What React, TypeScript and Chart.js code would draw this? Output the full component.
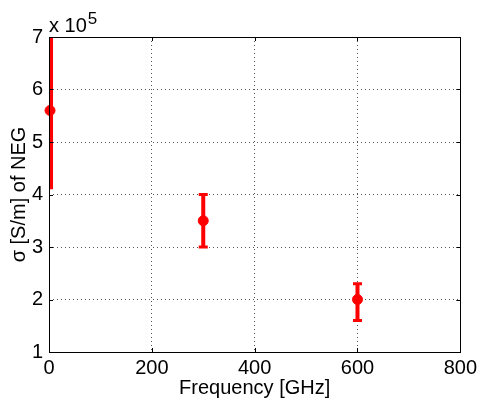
import React, { useEffect, useRef } from "react";
import { Chart, registerables } from "chart.js";

Chart.register(...registerables);

// Low-frequency (DC) measurement of NEG conductivity
const dcFreq = [2];
const dcSigma = [5.6e5];
const dcLow = [4.1e5];
const dcHigh = [7.0e5];

// THz measurements
const thzFreq = [300, 600];
const thzSigma = [3.5e5, 2.0e5];
const thzLow = [3.0e5, 1.6e5];
const thzHigh = [4.0e5, 2.3e5];

const xTicks = [0, 200, 400, 600, 800];
const yTicks = [1e5, 2e5, 3e5, 4e5, 5e5, 6e5, 7e5];
const yScaleExp = 5;

const xTitle = "Frequency [GHz]";
const yTitle = "σ [S/m] of NEG";

const FONT = "'Liberation Sans', Arial, Helvetica, sans-serif";
const RED = "#ff0000";

const framePlugin = {
  id: "matlabFrame",
  beforeDatasetsDraw(chart: any) {
    const ctx = chart.ctx;
    const ca = chart.chartArea;
    const ys = chart.scales.y;
    const xs = chart.scales.x;
    ctx.save();
    ctx.beginPath();
    ctx.rect(ca.left, ca.top, ca.right - ca.left, ca.bottom - ca.top);
    ctx.clip();
    chart.data.datasets.forEach((ds: any) => {
      const eb = ds.errorBars;
      if (!eb) return;
      ctx.strokeStyle = RED;
      ctx.lineWidth = eb.lineWidth;
      ctx.lineCap = "butt";
      ds.data.forEach((p: any, i: number) => {
        const px = xs.getPixelForValue(p.x);
        const yl = ys.getPixelForValue(eb.low[i]);
        const yh = ys.getPixelForValue(eb.high[i]);
        ctx.beginPath();
        ctx.moveTo(px, yl);
        ctx.lineTo(px, yh);
        ctx.stroke();
        if (eb.cap > 0) {
          ctx.lineWidth = 3;
          ctx.beginPath();
          ctx.moveTo(px - eb.cap / 2, yl);
          ctx.lineTo(px + eb.cap / 2, yl);
          ctx.moveTo(px - eb.cap / 2, yh);
          ctx.lineTo(px + eb.cap / 2, yh);
          ctx.stroke();
          ctx.lineWidth = eb.lineWidth;
        }
      });
    });
    ctx.restore();
  },
  afterDraw(chart: any) {
    const ctx = chart.ctx;
    const ca = chart.chartArea;
    const xs = chart.scales.x;
    const ys = chart.scales.y;
    ctx.save();
    ctx.strokeStyle = "#000";
    ctx.lineWidth = 1;
    ctx.strokeRect(Math.round(ca.left) + 0.5, Math.round(ca.top) + 0.5, Math.round(ca.right - ca.left), Math.round(ca.bottom - ca.top));
    const tl = 4;
    ctx.beginPath();
    xTicks.forEach((v) => {
      const px = Math.round(xs.getPixelForValue(v)) + 0.5;
      ctx.moveTo(px, ca.bottom);
      ctx.lineTo(px, ca.bottom - tl);
      ctx.moveTo(px, ca.top);
      ctx.lineTo(px, ca.top + tl);
    });
    yTicks.forEach((v) => {
      const py = Math.round(ys.getPixelForValue(v)) + 0.5;
      ctx.moveTo(ca.left, py);
      ctx.lineTo(ca.left + tl, py);
      ctx.moveTo(ca.right, py);
      ctx.lineTo(ca.right - tl, py);
    });
    ctx.stroke();
    // exponent label
    ctx.fillStyle = "#000";
    ctx.textAlign = "left";
    ctx.textBaseline = "alphabetic";
    ctx.font = `20px ${FONT}`;
    ctx.fillText("x 10", ca.left, 32);
    const w = ctx.measureText("x 10").width;
    ctx.font = `17px ${FONT}`;
    ctx.fillText(String(yScaleExp), ca.left + w + 1, 24);
    ctx.restore();
  },
};

export default function App() {
  const ref = useRef<HTMLCanvasElement | null>(null);
  useEffect(() => {
    if (!ref.current) return;
    const chart = new Chart(ref.current, {
      type: "scatter",
      data: {
        datasets: [
          {
            label: "DC",
            data: dcFreq.map((x, i) => ({ x, y: dcSigma[i] })),
            backgroundColor: RED,
            borderColor: RED,
            pointRadius: 5,
            pointHoverRadius: 5,
            clip: false,
            errorBars: { low: dcLow, high: dcHigh, lineWidth: 6, cap: 0 },
          } as any,
          {
            label: "THz",
            data: thzFreq.map((x, i) => ({ x, y: thzSigma[i] })),
            backgroundColor: RED,
            borderColor: RED,
            pointRadius: 5,
            pointHoverRadius: 5,
            clip: false,
            errorBars: { low: thzLow, high: thzHigh, lineWidth: 4, cap: 9 },
          } as any,
        ],
      },
      options: {
        responsive: false,
        animation: false,
        layout: { padding: { top: 37, right: 20, left: 0, bottom: 0 } },
        plugins: { legend: { display: false }, tooltip: { enabled: false } },
        scales: {
          x: {
            type: "linear",
            min: 0,
            max: 800,
            afterBuildTicks: (s: any) => {
              s.ticks = xTicks.map((v) => ({ value: v }));
            },
            afterFit: (s: any) => {
              s.height = 48;
            },
            ticks: {
              color: "#000",
              font: { family: FONT, size: 20 },
              padding: 4,
              maxRotation: 0,
            },
            grid: { color: "#555", drawTicks: false, lineWidth: 1 },
            border: { display: false, dash: [1, 3] },
            title: {
              display: true,
              text: xTitle,
              color: "#000",
              font: { family: FONT, size: 20 },
              padding: { top: 0, bottom: 0 },
            },
          },
          y: {
            type: "linear",
            min: 1e5,
            max: 7e5,
            afterBuildTicks: (s: any) => {
              s.ticks = yTicks.map((v) => ({ value: v }));
            },
            afterFit: (s: any) => {
              s.width = 49;
            },
            ticks: {
              color: "#000",
              font: { family: FONT, size: 20 },
              padding: 6,
              callback: (v: any) => String(Math.round(Number(v) / Math.pow(10, yScaleExp))),
            },
            grid: { color: "#555", drawTicks: false, lineWidth: 1 },
            border: { display: false, dash: [1, 3] },
            title: {
              display: true,
              text: yTitle,
              color: "#000",
              font: { family: FONT, size: 20 },
              padding: { top: 7, bottom: 0 },
            },
          },
        },
      },
      plugins: [framePlugin],
    } as any);
    return () => chart.destroy();
  }, []);
  return (
    <div style={{ position: "fixed", left: 0, top: 0, width: 481, height: 400, background: "#fff" }}>
      <canvas ref={ref} width={481} height={400} style={{ display: "block" }} />
    </div>
  );
}
